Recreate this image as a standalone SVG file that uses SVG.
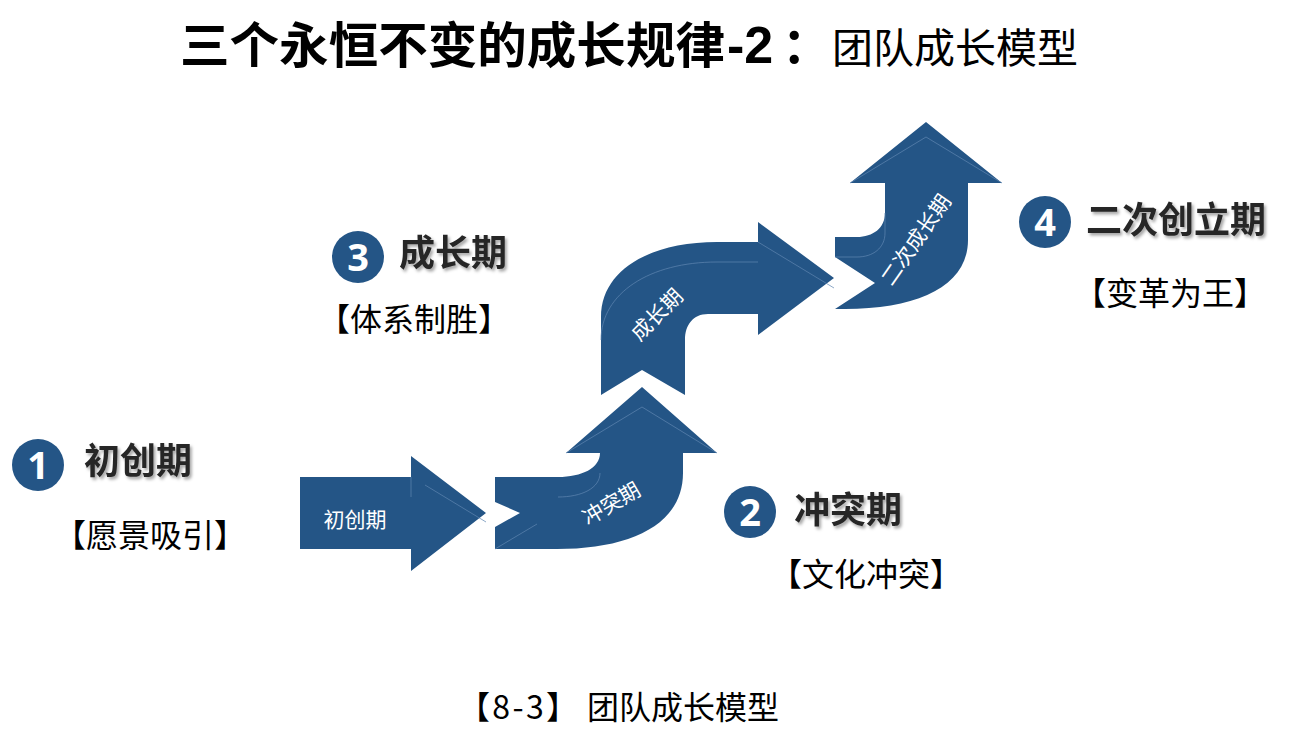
<svg xmlns="http://www.w3.org/2000/svg" width="1311" height="747" viewBox="0 0 1311 747">
  <defs>
    <style>
      .arrow { fill: #245586; }
      .bevel { fill: none; stroke: #5f86b0; stroke-width: 1; opacity: 0.7; }
      .atext { fill: #ffffff; font-family: "Noto Sans CJK SC", "Noto Sans", sans-serif; font-size: 21px; text-anchor: middle; }
      .circle { fill: #245586; }
      .num { fill: #ffffff; font-family: "Noto Sans", "Liberation Sans", sans-serif; font-weight: bold; font-size: 38px; text-anchor: middle; }
      .head { fill: #262626; font-family: "Noto Sans CJK SC", sans-serif; font-weight: bold; font-size: 36px; text-anchor: middle; filter: url(#shadow); }
      .sub { fill: #000000; font-family: "Noto Sans CJK SC", sans-serif; font-size: 32px; text-anchor: middle; }
      .cap { fill: #000000; font-family: "Noto Sans CJK SC", sans-serif; font-size: 32px; }
      .title { fill: #000000; font-family: "Noto Sans CJK SC", sans-serif; }
    </style>
    <filter id="shadow" x="-10%" y="-20%" width="130%" height="150%">
      <feDropShadow dx="2" dy="2.5" stdDeviation="1.5" flood-color="#000000" flood-opacity="0.35"/>
    </filter>
  </defs>
  <rect width="1311" height="747" fill="#ffffff"/>

  <g id="title">
    <text class="title" x="180" y="63" font-size="49" font-weight="bold" textLength="545" lengthAdjust="spacingAndGlyphs">三个永恒不变的成长规律</text>
    <text x="727" y="63" font-family="Liberation Sans, Arial, sans-serif" font-size="52" font-weight="bold" fill="#000000">-2</text>
    <text class="title" x="782" y="63" font-size="49" font-weight="bold">：</text>
    <text class="title" x="832" y="63" font-size="41">团队成长模型</text>
  </g>

  <g id="connectors">
    <g id="arrow1">
      <path class="arrow" d="M300,477 H411 V456 L486,513 L411,571 V549 H300 Z"/>
      <path class="bevel" d="M411,477 V497 M425,485 L486,522"/>
      <text class="atext" x="355" y="527">初创期</text>
    </g>
    <g id="arrow2">
      <path class="arrow" d="M495,477 H558 C582,477 600,468 600,453 H566 L642,387 L717,453 H683 V473 C683,525 630,549 557,549 H495 L495,527 L520,513 L495,502 Z"/>
      <path class="bevel" d="M566,453 L642,407 L717,453 M558,497 C582,497 600,488 600,473 M495,549 L537,524"/>
      <text class="atext" transform="translate(615,510) rotate(-30)">冲突期</text>
    </g>
    <g id="arrow3">
      <path class="arrow" d="M601,395 L642,370 L685,395 V340 C685,325 693,314 708,314 H758 V335 L834,278 L758,222 V242 H717 C650,242 601,270 601,317 Z"/>
      <path class="bevel" d="M601,340 C601,293 650,262 717,262 H758 M758,242 L834,288"/>
      <text class="atext" transform="translate(662,320) rotate(-45)">成长期</text>
    </g>
    <g id="arrow4">
      <path class="arrow" d="M835,237 H857 C873,237 885,228 885,213 V183 H850 L926,122 L1002,183 H968 V240 C968,285 920,309 845,309 H835 L875,283 L835,257 Z"/>
      <path class="bevel" d="M850,183 L926,137 L1002,183 M835,257 H857 C873,257 885,248 885,233 V213"/>
      <text class="atext" transform="translate(922,244) rotate(-55)">二次成长期</text>
    </g>
  </g>

  <g id="stage1">
    <circle class="circle" cx="38" cy="465" r="26"/>
    <text class="num" x="38" y="479">1</text>
    <text class="head" x="138" y="474">初创期</text>
    <text class="sub" x="150" y="547">【愿景吸引】</text>
  </g>

  <g id="stage2">
    <circle class="circle" cx="750" cy="512" r="26"/>
    <text class="num" x="750" y="526">2</text>
    <text class="head" x="848" y="523">冲突期</text>
    <text class="sub" x="866" y="586">【文化冲突】</text>
  </g>

  <g id="stage3">
    <circle class="circle" cx="358" cy="257" r="26"/>
    <text class="num" x="358" y="271">3</text>
    <text class="head" x="453" y="266">成长期</text>
    <text class="sub" x="414" y="331">【体系制胜】</text>
  </g>

  <g id="stage4">
    <circle class="circle" cx="1045" cy="222" r="26"/>
    <text class="num" x="1045" y="236">4</text>
    <text class="head" x="1176" y="233">二次创立期</text>
    <text class="sub" x="1170" y="305">【变革为王】</text>
  </g>

  <g id="caption">
    <text class="cap" x="458" y="719" textLength="120" lengthAdjust="spacing">【8-3】</text>
    <text class="cap" x="587" y="719">团队成长模型</text>
  </g>
</svg>
